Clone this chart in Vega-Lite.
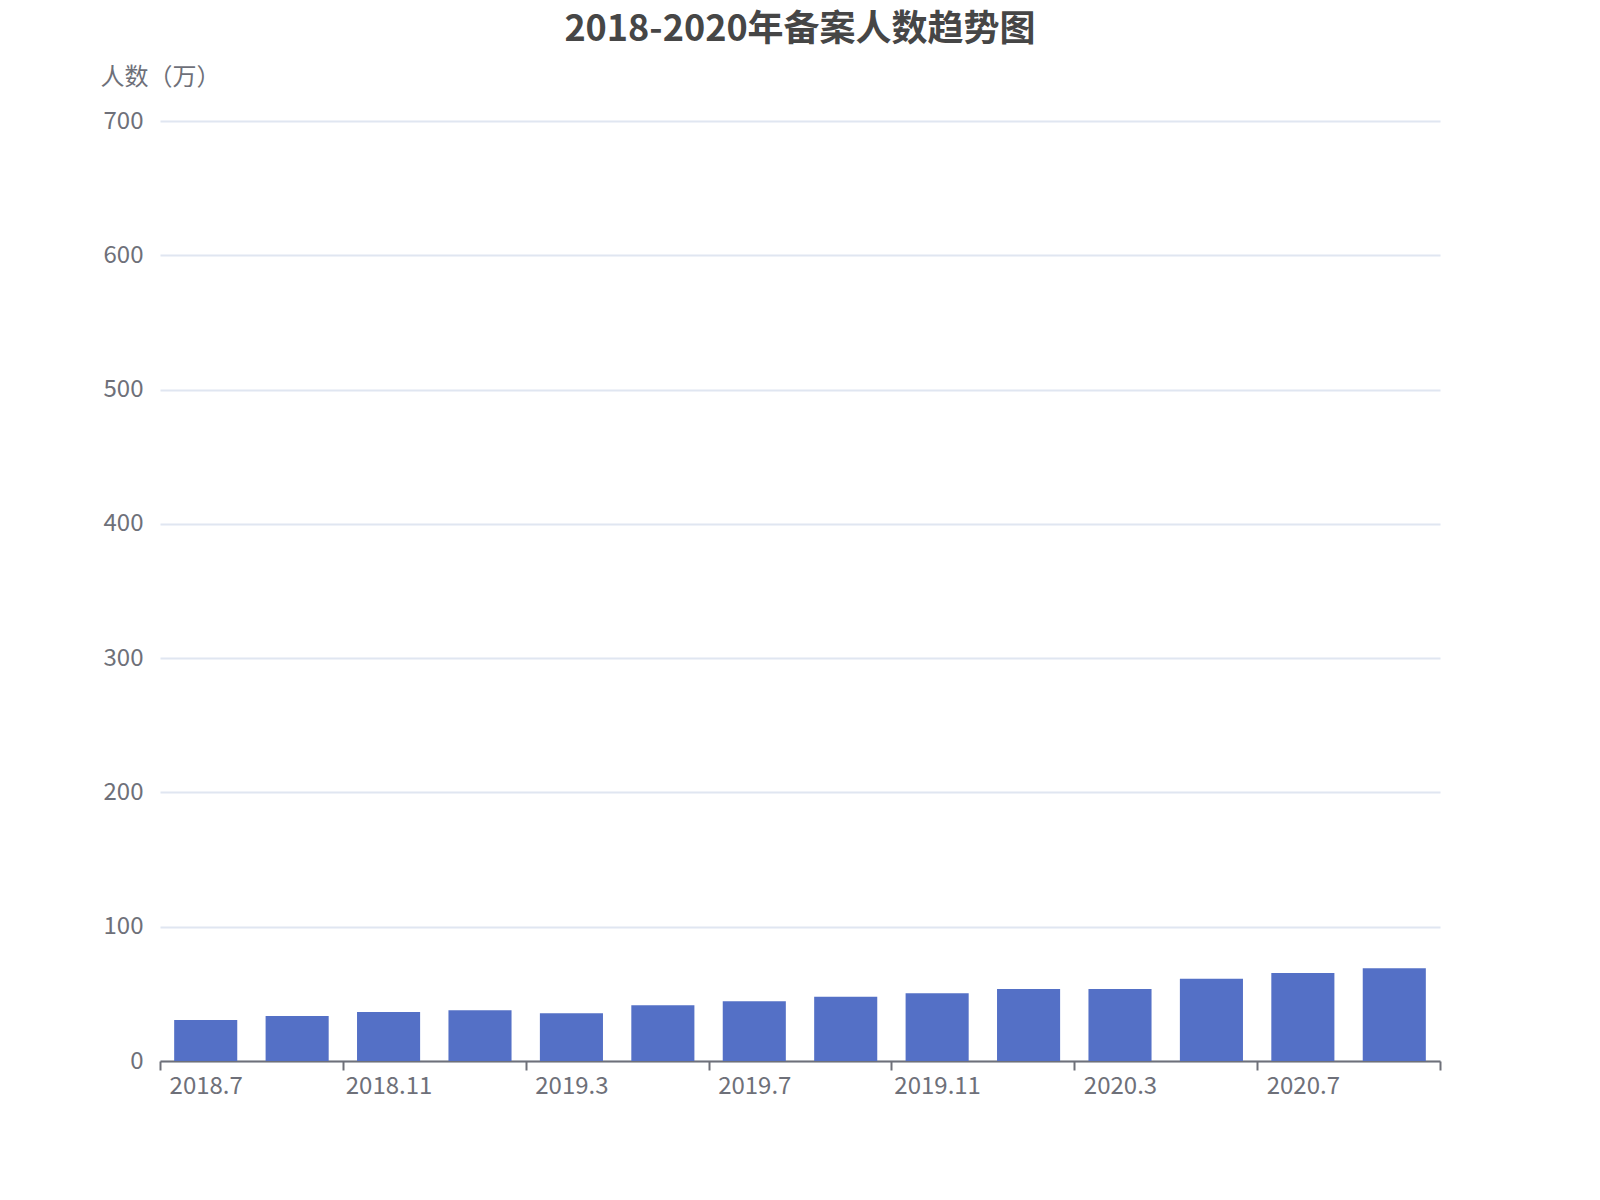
{
  "$schema": "https://vega.github.io/schema/vega-lite/v6.json",
  "autosize": "none",
  "width": 1280,
  "height": 940,
  "padding": {"left": 160, "top": 121, "right": 160, "bottom": 139},
  "background": "white",
  "config": {
    "font": "Noto Sans CJK SC",
    "view": {"stroke": null}
  },
  "title": {
    "text": "2018-2020年备案人数趋势图",
    "anchor": "middle",
    "fontSize": 36,
    "fontWeight": "bold",
    "color": "#464646",
    "font": "Noto Sans CJK SC",
    "offset": 16
  },
  "data": {
    "values": [
      {"month": "2018.7", "people": 30.5},
      {"month": "2018.9", "people": 33.5},
      {"month": "2018.11", "people": 36.5},
      {"month": "2019.1", "people": 37.7},
      {"month": "2019.3", "people": 35.5},
      {"month": "2019.5", "people": 41.5},
      {"month": "2019.7", "people": 44.5},
      {"month": "2019.9", "people": 47.9},
      {"month": "2019.11", "people": 50.4},
      {"month": "2020.1", "people": 53.6},
      {"month": "2020.3", "people": 53.6},
      {"month": "2020.5", "people": 61.3},
      {"month": "2020.7", "people": 65.5},
      {"month": "2020.9", "people": 69}
    ]
  },
  "mark": {"type": "bar", "color": "#5470C6", "width": {"band": 0.69}},
  "encoding": {
    "x": {
      "field": "month",
      "type": "ordinal",
      "sort": null,
      "scale": {"paddingInner": 0, "paddingOuter": 0},
      "axis": {
        "title": null,
        "labelExpr": "indexof(['2018.7','2018.11','2019.3','2019.7','2019.11','2020.3','2020.7'], datum.value) >= 0 ? datum.label : ''",
        "labelAngle": 0,
        "labelFontSize": 24,
        "labelColor": "#6E7079",
        "labelPadding": 4,
        "labelFont": "Noto Sans CJK SC",
        "domainColor": "#6E7079",
        "domainWidth": 2,
        "tickColor": "#6E7079",
        "tickWidth": 2,
        "tickSize": 9,
        "tickBand": "extent",
        "tickOpacity": {
          "condition": {
            "test": "!isValid(datum.value) || indexof(['2018.9','2019.1','2019.5','2019.9','2020.1','2020.5','2020.9'], datum.value) >= 0",
            "value": 1
          },
          "value": 0
        },
        "grid": false
      }
    },
    "y": {
      "field": "people",
      "type": "quantitative",
      "scale": {"domain": [0, 700]},
      "axis": {
        "title": "人数（万）",
        "titleAngle": 0,
        "titleX": 0,
        "titleY": -44,
        "titleAlign": "center",
        "titleBaseline": "middle",
        "titleFontSize": 24,
        "titleFontWeight": "normal",
        "titleColor": "#6E7079",
        "titleFont": "Noto Sans CJK SC",
        "values": [0, 100, 200, 300, 400, 500, 600, 700],
        "labelFontSize": 24,
        "labelColor": "#6E7079",
        "labelPadding": 17,
        "labelFont": "Noto Sans CJK SC",
        "domain": false,
        "ticks": false,
        "gridColor": "#E0E6F1",
        "gridWidth": 2
      }
    }
  }
}
